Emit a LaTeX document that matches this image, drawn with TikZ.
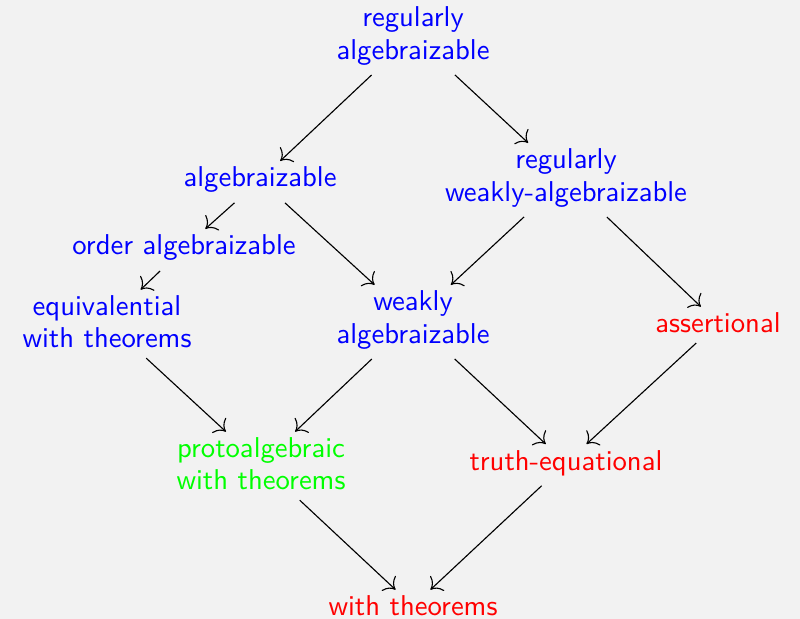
\documentclass[tikz,border=0pt]{standalone}
\usepackage{tikz}
\usetikzlibrary{positioning,arrows.meta}
\usepackage{xcolor}
\definecolor{PropBlue}{RGB}{0,0,255}
\definecolor{PropRed}{RGB}{255,0,0}
\definecolor{PropGreen}{RGB}{0,255,0}
\definecolor{BackGray}{RGB}{242,242,242}

\begin{document}
\begin{tikzpicture}[
x=0.0125cm,y=-0.0125cm,
prop/.style={align=center,font=\sffamily\fontsize{10.2}{11.4}\selectfont,inner sep=2pt},
arrow/.style={-{To[scale=1.4]},draw=black,shorten >=0pt,shorten <=2pt}
]
\fill[BackGray] (0,0) rectangle (800,619);
\useasboundingbox (0,0) rectangle (800,619);
\node[prop,text=PropBlue] (ra) at (413,36) {regularly\\algebraizable};
\node[prop,text=PropBlue] (a) at (260,180) {algebraizable};
\node[prop,text=PropBlue] (rwa) at (566,178) {regularly\\weakly-algebraizable};
\node[prop,text=PropBlue] (oa) at (184,248) {order algebraizable};
\node[prop,text=PropBlue] (ewt) at (107,322) {equivalential\\with theorems};
\node[prop,text=PropBlue] (wa) at (413,320) {weakly\\algebraizable};
\node[prop,text=PropRed] (as) at (718,323) {assertional};
\node[prop,text=PropGreen] (pwt) at (261,464) {protoalgebraic\\with theorems};
\node[prop,text=PropRed] (te) at (566,463) {truth-equational};
\node[prop,text=PropRed] (wt) at (413,606) {with theorems};
\draw[arrow] (ra)--(a); \draw[arrow] (ra)--(rwa);
\draw[arrow] (a)--(oa); \draw[arrow] (a)--(wa);
\draw[arrow] (rwa)--(wa); \draw[arrow] (rwa)--(as);
\draw[arrow] (oa)--(ewt);
\draw[arrow] (ewt)--(pwt); \draw[arrow] (wa)--(pwt);
\draw[arrow] (wa)--(te); \draw[arrow] (as)--(te);
\draw[arrow] (pwt)--(wt); \draw[arrow] (te)--(wt);
\end{tikzpicture}
\end{document}
